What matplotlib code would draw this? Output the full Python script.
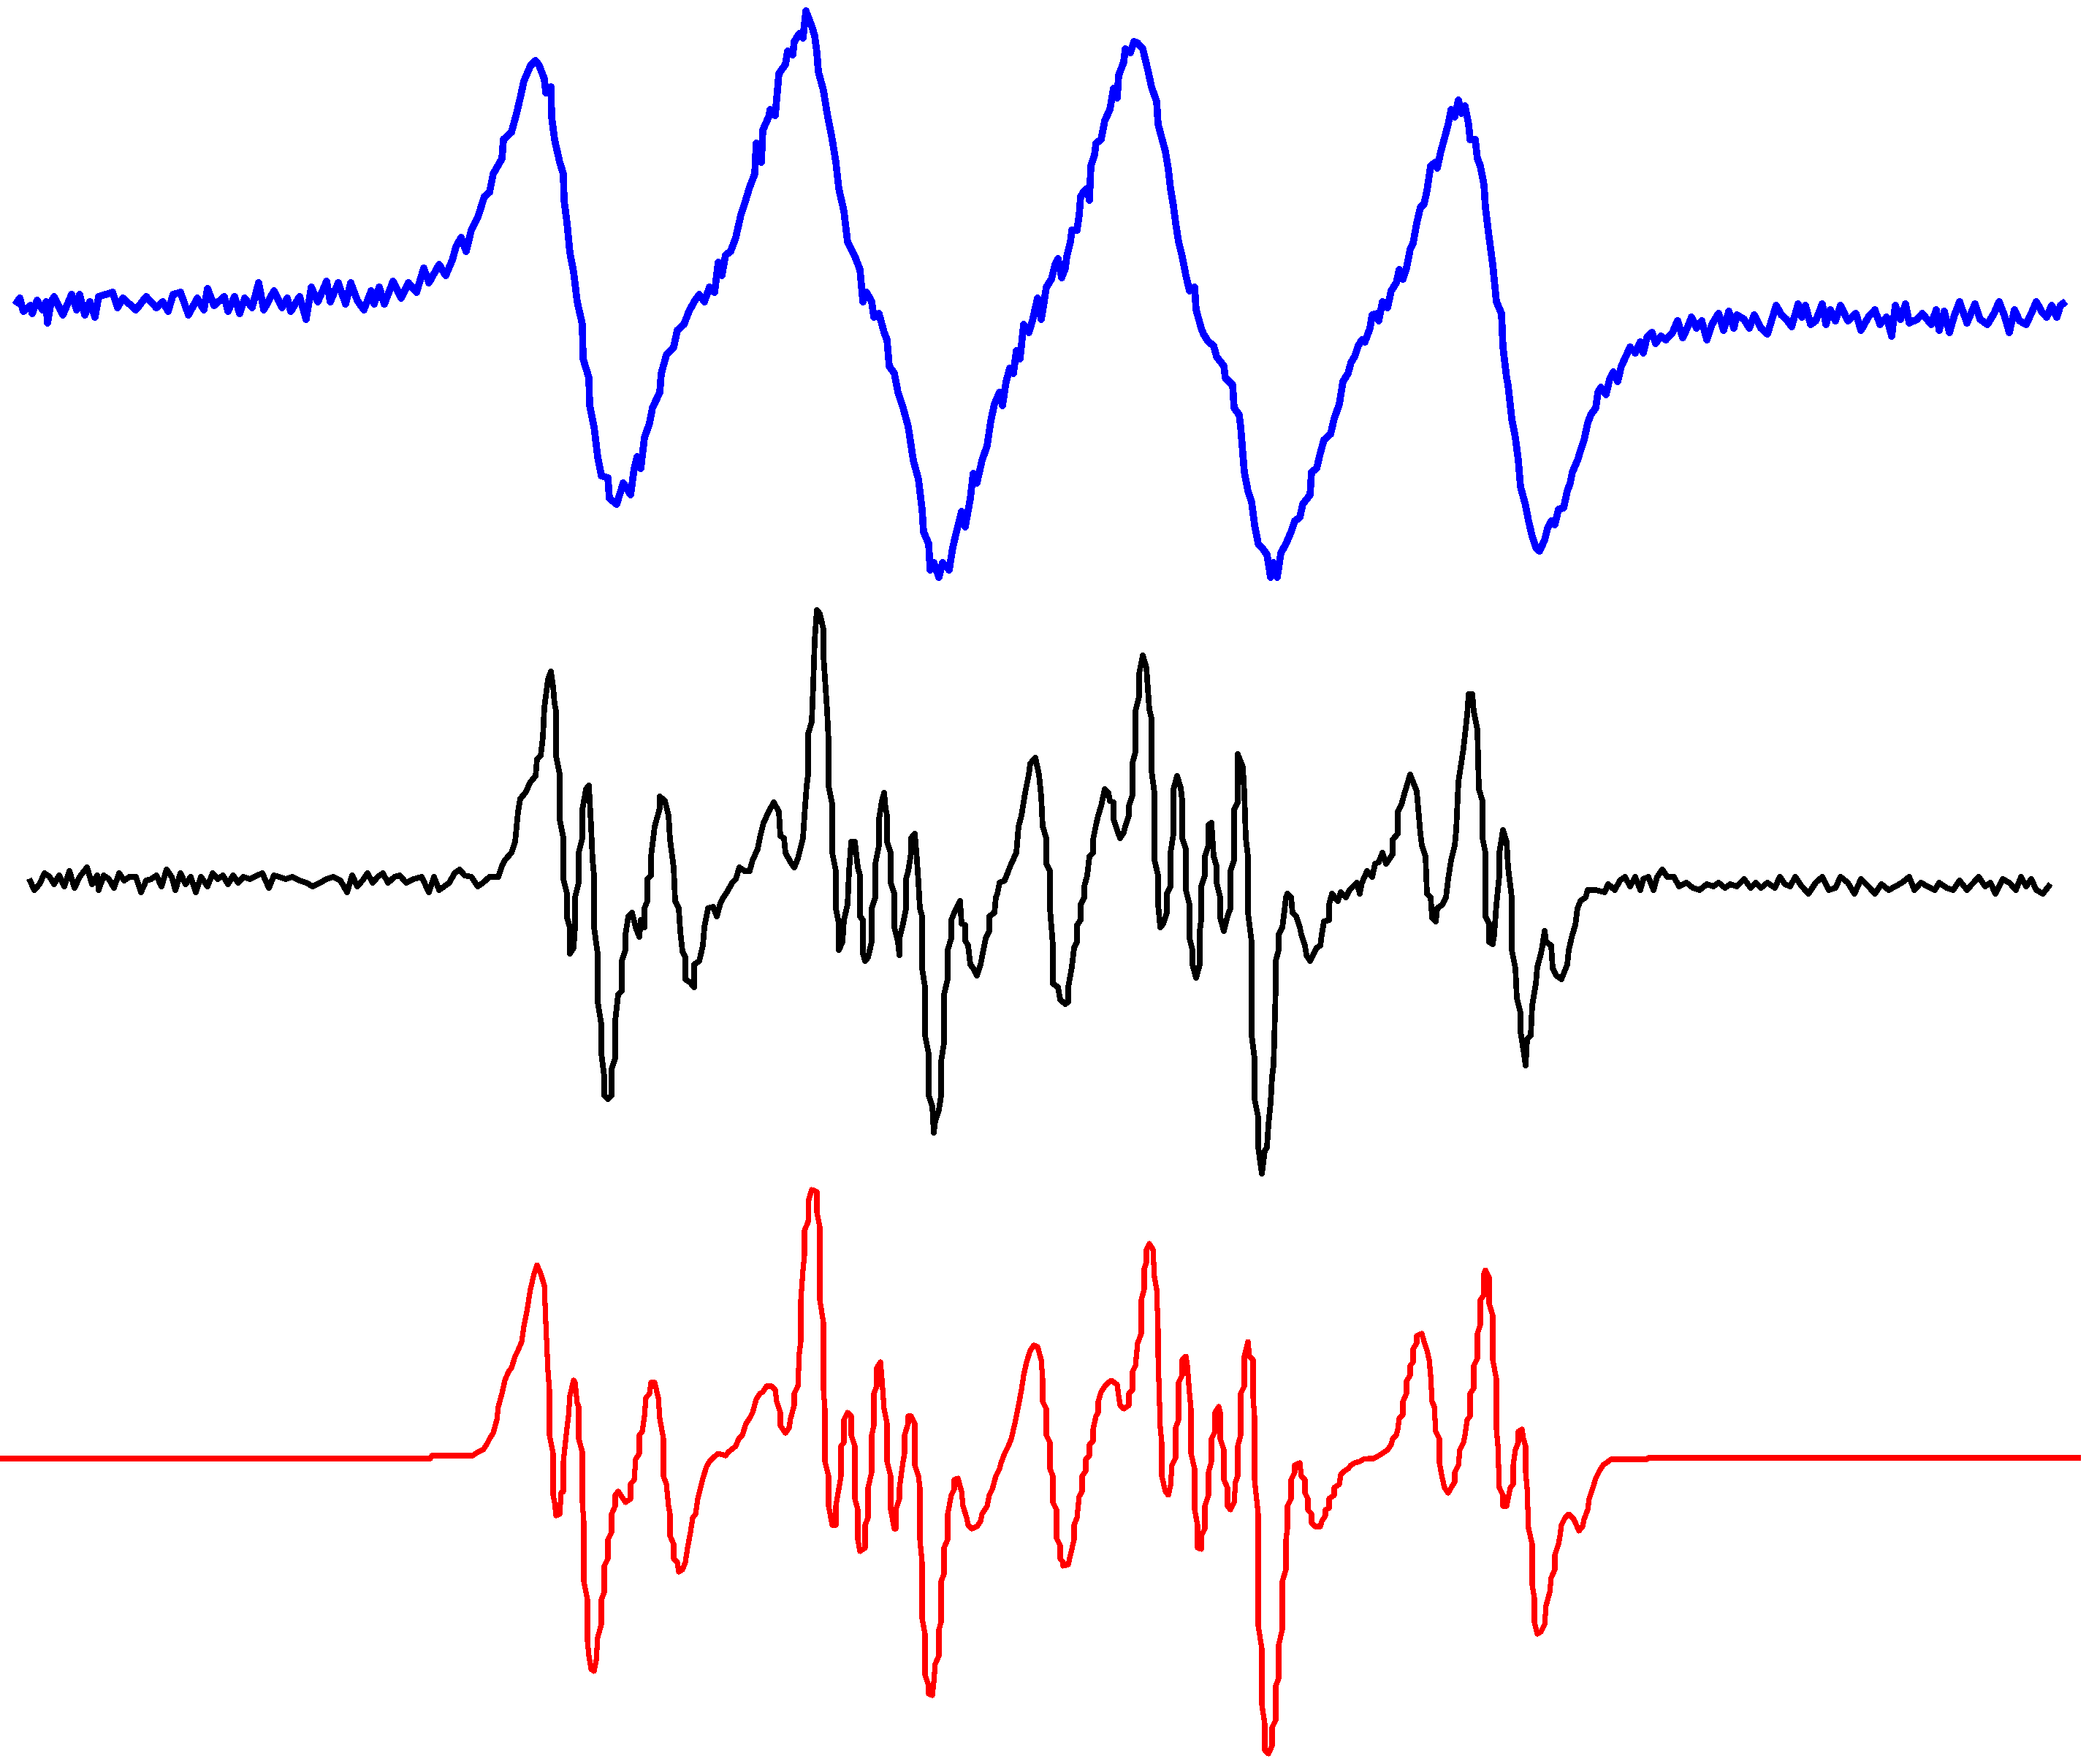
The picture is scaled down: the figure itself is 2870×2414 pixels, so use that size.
import matplotlib
matplotlib.use("Agg")
import matplotlib.pyplot as plt

# -----------------------------
# Readings (field position, signal row) taken off the stacked spectra
# -----------------------------
blue_points = [
    (21, 417), (27, 408), (32, 426), (42, 418), (44, 429), (51, 411), (58, 424), (63, 413), (65, 442),
    (70, 413), (74, 406), (86, 431), (98, 403), (105, 424), (109, 403), (116, 431), (123, 413), (130, 434),
    (135, 406), (154, 400), (161, 421), (168, 408), (186, 424), (200, 406), (214, 421), (223, 413), (230, 426),
    (237, 403), (247, 400), (258, 431), (270, 408), (279, 424), (284, 395), (293, 418), (307, 406), (312, 426),
    (321, 406), (328, 429), (335, 408), (345, 421), (354, 387), (361, 424), (375, 398), (386, 421), (393, 408),
    (398, 426), (410, 406), (419, 437), (426, 393), (435, 413), (447, 385), (452, 413), (463, 387), (473, 416),
    (480, 387), (489, 411), (498, 424), (508, 398), (512, 416), (519, 393), (526, 416), (538, 385), (549, 408),
    (559, 387), (570, 400), (580, 367), (587, 387), (601, 362), (610, 377), (619, 356), (624, 338), (631, 325),
    (638, 344), (645, 315), (654, 297), (663, 269), (670, 263), (675, 238), (687, 217), (689, 191),
    (700, 181), (707, 155), (712, 134), (717, 111), (726, 90), (733, 83), (738, 90), (745, 108), (747, 127),
    (754, 119), (755, 160), (759, 191), (766, 222), (771, 238), (772, 274), (776, 305), (780, 346), (785, 372),
    (790, 413), (797, 444), (798, 491), (806, 517), (807, 555), (813, 584), (818, 625), (823, 651), (832, 654),
    (834, 682), (844, 690), (853, 661), (863, 677), (868, 641), (872, 625), (877, 641), (882, 599), (889, 579),
    (893, 558), (903, 537), (905, 511), (912, 486), (922, 475), (927, 452), (936, 444), (943, 426), (950, 413),
    (957, 403), (964, 413), (971, 393), (978, 400), (983, 359), (988, 377), (993, 349), (1000, 344), (1007, 325),
    (1014, 294), (1019, 279), (1026, 256), (1033, 238), (1035, 196), (1042, 222), (1044, 178), (1052, 160),
    (1054, 150), (1061, 158), (1066, 101), (1075, 88), (1078, 70), (1085, 75), (1087, 57), (1094, 46), (1099, 52),
    (1103, 15), (1111, 36), (1115, 49), (1118, 72), (1120, 98), (1127, 124), (1132, 155), (1139, 191), (1144, 222),
    (1148, 258), (1155, 289), (1160, 331), (1170, 351), (1177, 369), (1181, 413), (1186, 400), (1193, 413),
    (1196, 434), (1203, 429), (1210, 455), (1214, 465), (1217, 501), (1224, 511), (1229, 537), (1236, 558),
    (1243, 584), (1250, 630), (1257, 656), (1262, 697), (1264, 728), (1271, 744), (1273, 780), (1278, 770),
    (1285, 790), (1290, 770), (1299, 780), (1304, 749), (1309, 728), (1316, 700), (1321, 721), (1328, 682),
    (1332, 648), (1337, 661), (1344, 630), (1351, 610), (1356, 576), (1361, 553), (1368, 537), (1372, 555),
    (1377, 522), (1382, 504), (1387, 511), (1391, 480), (1396, 491), (1401, 444), (1408, 455), (1413, 439),
    (1420, 408), (1425, 437), (1429, 413), (1432, 393), (1439, 382), (1444, 362), (1448, 354), (1453, 380),
    (1458, 367), (1460, 351), (1465, 331), (1467, 315), (1474, 315), (1477, 294), (1479, 269), (1484, 261),
    (1488, 258), (1491, 274), (1493, 227), (1498, 212), (1500, 196), (1507, 191), (1512, 165), (1519, 150),
    (1524, 121), (1529, 134), (1531, 103), (1538, 85), (1540, 67), (1547, 72), (1552, 57), (1557, 59), (1564, 67),
    (1571, 96), (1576, 119), (1583, 139), (1585, 170), (1590, 189), (1595, 207), (1599, 232), (1602, 258),
    (1606, 282), (1609, 305), (1613, 331), (1618, 351), (1623, 377), (1628, 398), (1635, 393), (1637, 424),
    (1644, 449), (1647, 457), (1654, 468), (1661, 473), (1665, 488), (1675, 501), (1677, 517), (1687, 527),
    (1689, 558), (1696, 568), (1698, 584), (1703, 646), (1708, 672), (1713, 687), (1717, 718), (1722, 744),
    (1729, 752), (1734, 759), (1739, 790), (1743, 770), (1748, 790), (1753, 757), (1760, 744), (1767, 728),
    (1772, 713), (1779, 708), (1783, 690), (1793, 677), (1795, 646), (1802, 641), (1807, 620), (1812, 602),
    (1821, 594), (1826, 573), (1833, 553), (1838, 522), (1845, 511), (1849, 496), (1854, 488), (1859, 473),
    (1864, 465), (1868, 468), (1875, 449), (1878, 431), (1885, 429), (1887, 439), (1892, 413), (1899, 421),
    (1904, 398), (1911, 387), (1915, 369), (1920, 382), (1925, 367), (1930, 341), (1934, 333), (1939, 305),
    (1944, 284), (1949, 279), (1953, 261), (1958, 227), (1965, 222), (1967, 230), (1972, 207), (1977, 189),
    (1982, 170), (1986, 150), (1991, 160), (1996, 137), (2000, 155), (2005, 145), (2010, 170), (2012, 191),
    (2019, 191), (2022, 217), (2026, 227), (2031, 253), (2033, 284), (2038, 325), (2043, 362), (2048, 413),
    (2055, 429), (2057, 475), (2062, 517), (2064, 527), (2069, 573), (2074, 599), (2078, 630), (2081, 666),
    (2088, 692), (2092, 713), (2097, 734), (2102, 749), (2107, 754), (2114, 739), (2118, 723), (2123, 713),
    (2128, 718), (2133, 697),
    (2140, 695), (2145, 672), (2149, 661), (2152, 646), (2159, 630), (2163, 617), (2168, 602), (2173, 579),
    (2177, 568), (2184, 558), (2187, 537), (2191, 530), (2198, 540), (2203, 519), (2208, 509), (2214, 522),
    (2219, 501), (2226, 486), (2231, 475), (2238, 483), (2245, 468), (2249, 483), (2254, 462), (2261, 455),
    (2266, 470), (2273, 460), (2280, 465), (2289, 455), (2296, 439), (2303, 462), (2310, 447), (2315, 434),
    (2322, 449), (2329, 439), (2336, 465), (2343, 444), (2352, 429), (2359, 452), (2366, 426), (2373, 449),
    (2377, 431), (2387, 437), (2394, 449), (2401, 431), (2410, 449), (2419, 457), (2426, 434), (2431, 418),
    (2438, 431), (2445, 437), (2452, 447), (2461, 416), (2466, 434), (2471, 418), (2478, 444), (2485, 439),
    (2494, 416), (2499, 444), (2505, 424), (2512, 439), (2519, 418), (2529, 439), (2540, 429), (2547, 452),
    (2557, 434), (2566, 424), (2573, 444), (2582, 434), (2589, 460), (2594, 418), (2601, 437), (2608, 416),
    (2613, 442), (2624, 437), (2631, 429), (2643, 444), (2650, 424), (2654, 452), (2661, 426), (2668, 455),
    (2675, 431), (2682, 413), (2692, 442), (2703, 416), (2710, 437), (2720, 444), (2729, 429), (2736, 413),
    (2743, 431), (2750, 455), (2757, 424), (2764, 439), (2773, 444), (2780, 429), (2787, 413), (2794, 426),
    (2801, 434), (2808, 418), (2815, 434), (2820, 418), (2827, 413),
]

black_points = [
    (40, 1203), (47, 1218), (54, 1210), (61, 1195), (68, 1200), (74, 1210), (81, 1198), (88, 1213), (95, 1192),
    (102, 1215), (109, 1200), (119, 1187), (126, 1210), (133, 1198), (135, 1218), (142, 1198), (149, 1203),
    (156, 1215), (163, 1195), (170, 1205), (177, 1200), (186, 1200), (193, 1221), (200, 1205), (207, 1203),
    (214, 1198), (221, 1213), (228, 1190), (235, 1200), (240, 1218), (247, 1195), (254, 1210), (261, 1200),
    (268, 1221), (275, 1200), (284, 1213), (291, 1195), (298, 1203), (305, 1198), (312, 1210), (319, 1198),
    (326, 1208), (333, 1200), (342, 1203), (352, 1198), (359, 1195), (368, 1215), (375, 1198), (382, 1200),
    (391, 1203), (400, 1200), (410, 1205), (419, 1208), (428, 1213), (438, 1208), (447, 1203), (456, 1200),
    (466, 1205), (475, 1221), (482, 1198), (489, 1213), (496, 1205), (503, 1195), (510, 1208), (517, 1200),
    (524, 1195), (531, 1208), (540, 1200), (547, 1198), (556, 1208), (566, 1203), (577, 1200), (587, 1221),
    (594, 1200), (601, 1218), (608, 1213), (615, 1208), (622, 1195), (629, 1190), (636, 1198), (645, 1200),
    (654, 1213), (661, 1208), (670, 1200), (682, 1200), (687, 1185), (691, 1177),
    (700, 1167), (705, 1152), (707, 1131), (709, 1111), (712, 1093), (719, 1085), (726, 1070), (733, 1062),
    (735, 1039), (740, 1034), (743, 1009), (745, 968), (747, 953), (750, 930), (754, 919), (757, 940), (759, 963),
    (761, 973), (761, 1034), (766, 1060), (766, 1121), (771, 1147), (771, 1203), (776, 1223), (776, 1256),
    (780, 1269), (780, 1305), (785, 1297), (787, 1269), (787, 1228), (792, 1208), (792, 1167), (797, 1147),
    (797, 1108), (802, 1080), (806, 1075), (809, 1131), (811, 1177), (813, 1198), (813, 1269), (818, 1305),
    (818, 1371), (823, 1402), (823, 1442), (827, 1473), (827, 1499), (832, 1504), (837, 1499), (837, 1463),
    (842, 1448), (842, 1397), (846, 1361), (851, 1356), (851, 1315), (856, 1300), (856, 1279), (860, 1254),
    (865, 1249), (870, 1269), (875, 1282), (877, 1259), (882, 1269), (882, 1243), (886, 1233), (886, 1203),
    (891, 1198), (891, 1172), (896, 1131), (903, 1106), (903, 1090), (910, 1096), (915, 1116), (917, 1149),
    (922, 1187), (924, 1233), (929, 1243), (931, 1274), (934, 1302), (938, 1310), (938, 1340), (945, 1345),
    (950, 1351), (950, 1320), (957, 1315), (962, 1294), (964, 1269), (969, 1243), (976, 1241), (981, 1254),
    (986, 1236), (990, 1228), (995, 1221), (1002, 1208), (1007, 1203), (1012, 1187), (1019, 1192), (1026, 1192),
    (1030, 1177), (1037, 1162), (1040, 1146), (1045, 1126), (1052, 1111), (1059, 1098), (1066, 1111),
    (1068, 1144), (1073, 1147), (1075, 1167), (1082, 1180), (1087, 1187), (1092, 1175), (1099, 1147),
    (1101, 1116), (1104, 1075), (1106, 1060), (1106, 1004), (1111, 988), (1113, 937), (1115, 876), (1118, 835),
    (1122, 840), (1127, 861), (1127, 897), (1132, 973), (1134, 1014), (1134, 1075), (1139, 1101), (1139, 1167),
    (1144, 1192), (1144, 1243), (1148, 1264), (1148, 1300), (1153, 1289), (1155, 1259), (1160, 1238),
    (1162, 1192), (1165, 1152), (1170, 1152), (1174, 1187), (1177, 1198), (1177, 1254), (1181, 1259),
    (1181, 1305), (1184, 1315), (1188, 1310), (1193, 1289), (1193, 1243), (1198, 1228), (1198, 1182),
    (1203, 1157), (1203, 1121), (1207, 1096), (1210, 1085), (1212, 1106), (1214, 1116), (1214, 1152),
    (1219, 1167), (1219, 1208), (1224, 1223), (1224, 1269), (1229, 1289), (1231, 1307), (1231, 1284),
    (1236, 1264), (1240, 1243), (1240, 1203), (1243, 1192), (1247, 1167), (1247, 1147), (1252, 1141),
    (1255, 1177), (1257, 1208), (1259, 1243), (1262, 1254), (1262, 1325), (1266, 1351), (1266, 1417),
    (1271, 1442), (1271, 1499), (1276, 1514), (1278, 1550), (1280, 1534), (1285, 1519), (1288, 1499),
    (1288, 1453), (1292, 1427), (1292, 1361), (1297, 1340), (1297, 1300), (1302, 1284), (1302, 1259),
    (1306, 1249), (1309, 1243), (1314, 1233), (1316, 1264), (1321, 1266), (1321, 1287), (1325, 1294),
    (1328, 1320), (1332, 1325), (1337, 1335), (1342, 1320), (1344, 1310), (1349, 1284), (1354, 1274),
    (1354, 1254), (1361, 1249), (1363, 1228), (1365, 1223), (1368, 1208), (1375, 1205), (1380, 1192),
    (1384, 1182), (1391, 1167), (1394, 1131), (1398, 1116), (1403, 1085), (1408, 1060), (1410, 1045),
    (1417, 1037),
    (1422, 1060), (1425, 1090), (1427, 1131), (1432, 1147), (1432, 1182), (1437, 1192), (1437, 1243),
    (1441, 1294), (1441, 1346), (1448, 1351), (1451, 1368), (1458, 1374), (1462, 1371), (1462, 1351),
    (1467, 1323), (1470, 1297), (1474, 1289), (1474, 1266), (1479, 1259), (1479, 1238), (1484, 1228),
    (1484, 1213), (1488, 1198), (1491, 1172), (1496, 1167), (1496, 1149), (1500, 1129), (1503, 1116),
    (1507, 1103), (1512, 1080), (1517, 1085), (1519, 1096), (1524, 1098), (1524, 1121), (1529, 1136),
    (1533, 1147), (1538, 1139), (1540, 1131), (1545, 1116), (1545, 1103), (1550, 1088), (1550, 1044),
    (1554, 1029), (1554, 973), (1559, 953), (1559, 922), (1564, 897), (1569, 914), (1573, 971), (1576, 983),
    (1576, 1055), (1580, 1085), (1580, 1177), (1585, 1198), (1585, 1238), (1588, 1269), (1592, 1264),
    (1597, 1249), (1597, 1223), (1602, 1213), (1602, 1167), (1606, 1141), (1606, 1080), (1611, 1062),
    (1616, 1078), (1618, 1096), (1618, 1147), (1623, 1162), (1623, 1218), (1628, 1238), (1628, 1284),
    (1632, 1300), (1632, 1320), (1637, 1338), (1642, 1320), (1642, 1274), (1644, 1259), (1644, 1213),
    (1649, 1198), (1649, 1172), (1654, 1157), (1654, 1129), (1658, 1126), (1661, 1172), (1665, 1185),
    (1665, 1208), (1670, 1228), (1670, 1256), (1675, 1274), (1680, 1254), (1684, 1243), (1684, 1192),
    (1689, 1177), (1689, 1108), (1694, 1098), (1694, 1032), (1701, 1050), (1703, 1085), (1705, 1147),
    (1708, 1172), (1708, 1249), (1713, 1289), (1713, 1417), (1717, 1448), (1717, 1504), (1722, 1529),
    (1722, 1570), (1727, 1606), (1731, 1575), (1734, 1570), (1736, 1539), (1739, 1509), (1741, 1473),
    (1743, 1458), (1746, 1351), (1746, 1315), (1750, 1300), (1750, 1279), (1755, 1269), (1757, 1254),
    (1760, 1228), (1762, 1223), (1767, 1228), (1769, 1249), (1774, 1254), (1779, 1269), (1781, 1279),
    (1786, 1294), (1788, 1307), (1793, 1315), (1798, 1305), (1802, 1297), (1807, 1294), (1809, 1279),
    (1812, 1261), (1819, 1259), (1819, 1238), (1823, 1223), (1831, 1233), (1835, 1221), (1842, 1228),
    (1847, 1218), (1852, 1213), (1857, 1208), (1861, 1223), (1864, 1208), (1871, 1192), (1878, 1200),
    (1882, 1182), (1887, 1180), (1892, 1167), (1897, 1182), (1906, 1169), (1906, 1149), (1913, 1141),
    (1913, 1111), (1918, 1101), (1923, 1083), (1927, 1070), (1930, 1060), (1934, 1070), (1939, 1083),
    (1941, 1106), (1944, 1141), (1946, 1157), (1951, 1172), (1953, 1223), (1958, 1228), (1960, 1256),
    (1965, 1261), (1967, 1243), (1974, 1238), (1979, 1228), (1982, 1203), (1986, 1177), (1991, 1157),
    (1993, 1136), (1996, 1070), (2000, 1044), (2003, 1024), (2008, 978), (2010, 950), (2015, 950), (2017, 973),
    (2022, 999), (2024, 1080), (2029, 1096), (2029, 1147), (2033, 1167), (2033, 1254), (2038, 1264),
    (2038, 1289), (2043, 1292), (2045, 1279), (2048, 1238), (2052, 1198), (2052, 1167), (2057, 1136),
    (2062, 1152), (2064, 1187), (2069, 1228), (2069, 1300), (2074, 1325), (2076, 1366), (2081, 1386),
    (2081, 1412), (2085, 1437), (2088, 1458), (2090, 1422), (2095, 1417), (2097, 1376), (2102, 1346),
    (2104, 1323), (2109, 1305), (2111, 1294), (2114, 1274), (2116, 1289), (2123, 1294), (2125, 1325),
    (2130, 1335), (2137, 1340),
    (2145, 1320), (2147, 1300), (2152, 1279), (2156, 1266), (2159, 1243), (2163, 1233), (2170, 1228),
    (2173, 1218), (2184, 1218), (2196, 1221), (2201, 1210), (2210, 1218), (2217, 1205), (2224, 1200),
    (2231, 1213), (2238, 1200), (2245, 1218), (2249, 1203), (2256, 1200), (2263, 1218), (2268, 1200),
    (2275, 1190), (2282, 1200), (2291, 1200), (2298, 1213), (2308, 1208), (2317, 1215), (2326, 1218),
    (2336, 1210), (2345, 1213), (2352, 1208), (2361, 1215), (2368, 1210), (2377, 1213), (2387, 1203),
    (2396, 1215), (2403, 1208), (2410, 1215), (2419, 1208), (2429, 1215), (2436, 1200), (2443, 1210),
    (2450, 1213), (2457, 1200), (2466, 1213), (2475, 1223), (2485, 1208), (2494, 1200), (2503, 1218),
    (2512, 1215), (2519, 1200), (2529, 1208), (2538, 1223), (2547, 1203), (2557, 1213), (2566, 1223),
    (2575, 1210), (2585, 1218), (2594, 1213), (2603, 1208), (2613, 1200), (2620, 1218), (2629, 1208),
    (2638, 1213), (2648, 1218), (2654, 1208), (2664, 1215), (2673, 1218), (2682, 1205), (2692, 1218),
    (2699, 1210), (2708, 1200), (2717, 1213), (2724, 1208), (2731, 1223), (2741, 1203), (2750, 1208),
    (2759, 1218), (2766, 1200), (2773, 1213), (2780, 1203), (2787, 1218), (2796, 1223), (2806, 1210),
]

red_points = [
    (0, 1996), (589, 1996), (591, 1992), (647, 1992), (654, 1987), (661, 1984), (666, 1977), (670, 1969),
    (675, 1961), (680, 1943), (682, 1925), (687, 1907), (691, 1889), (696, 1877),
    (700, 1872), (705, 1856), (709, 1848), (714, 1836), (717, 1815), (721, 1795), (726, 1764), (731, 1743),
    (735, 1731), (740, 1743), (745, 1759), (747, 1810), (750, 1877), (752, 1902), (752, 1964), (757, 1989),
    (757, 2046), (759, 2056), (761, 2074), (766, 2072), (768, 2043), (771, 2041), (771, 2000), (776, 1954),
    (778, 1938), (780, 1910), (785, 1889), (787, 1892), (790, 1920), (792, 1925), (792, 1969), (797, 1987),
    (797, 2056), (799, 2082), (799, 2164), (804, 2189), (804, 2246), (806, 2266), (809, 2284), (813, 2287),
    (816, 2272), (818, 2241), (823, 2223), (823, 2189), (827, 2179), (827, 2143), (832, 2133), (832, 2107),
    (837, 2097), (837, 2072), (842, 2061), (842, 2046), (846, 2041), (851, 2048), (856, 2056), (863, 2051),
    (863, 2031), (868, 2025), (870, 1997), (875, 1989), (875, 1964), (879, 1959), (882, 1938), (884, 1913),
    (889, 1907), (891, 1892), (896, 1892), (901, 1913), (903, 1941), (908, 1969), (908, 2020), (912, 2031),
    (915, 2061), (917, 2072), (917, 2102), (922, 2113), (922, 2133), (927, 2138), (929, 2151), (934, 2148),
    (938, 2138), (941, 2118), (945, 2097), (948, 2077), (952, 2072), (955, 2051), (960, 2031), (962, 2023),
    (967, 2007), (971, 2000), (976, 1995), (983, 1989), (993, 1992), (997, 1987), (1007, 1979), (1011, 1969),
    (1016, 1964), (1021, 1948), (1026, 1941), (1030, 1933), (1035, 1915), (1040, 1907), (1044, 1905),
    (1049, 1897), (1056, 1897), (1061, 1902), (1063, 1918), (1068, 1933), (1068, 1951), (1075, 1961),
    (1080, 1954), (1082, 1941), (1087, 1923), (1087, 1907), (1092, 1897), (1094, 1851), (1096, 1836),
    (1096, 1779), (1099, 1738), (1101, 1718), (1101, 1684), (1106, 1672), (1107, 1641), (1111, 1628),
    (1118, 1631), (1118, 1659), (1122, 1679), (1122, 1779), (1127, 1810), (1127, 1902), (1129, 1928),
    (1129, 2000), (1134, 2020), (1134, 2061), (1139, 2087), (1144, 2087), (1144, 2061), (1151, 2020),
    (1151, 1979), (1155, 1974), (1155, 1943), (1160, 1933), (1165, 1938), (1165, 1964), (1170, 1979),
    (1170, 2051), (1174, 2066), (1174, 2107), (1177, 2123), (1184, 2118), (1184, 2087), (1188, 2077),
    (1188, 2036), (1193, 2015), (1193, 1964), (1196, 1951), (1196, 1907), (1200, 1897), (1200, 1872),
    (1205, 1864), (1207, 1887), (1210, 1928), (1214, 1948), (1214, 2000), (1219, 2020), (1219, 2066),
    (1224, 2092), (1226, 2092), (1226, 2066), (1231, 2051), (1231, 2036), (1236, 2000), (1238, 1989),
    (1238, 1964), (1243, 1948), (1243, 1938), (1247, 1938), (1252, 1948), (1252, 2005), (1257, 2020),
    (1259, 2036), (1259, 2107), (1262, 2138), (1262, 2215), (1266, 2236), (1266, 2292), (1271, 2307),
    (1271, 2318), (1276, 2320), (1278, 2302), (1280, 2277), (1285, 2266), (1285, 2230), (1288, 2220),
    (1288, 2164), (1292, 2154), (1292, 2118), (1297, 2107), (1297, 2072), (1302, 2046), (1306, 2038),
    (1306, 2025), (1311, 2023), (1316, 2041), (1318, 2061), (1323, 2077), (1325, 2087), (1330, 2092),
    (1337, 2089), (1342, 2082), (1344, 2072), (1351, 2061), (1354, 2046), (1358, 2038), (1363, 2020),
    (1368, 2010), (1370, 2002), (1375, 1989), (1380, 1979), (1384, 1969), (1389, 1948), (1394, 1923),
    (1398, 1902), (1401, 1882), (1405, 1864), (1410, 1848), (1415, 1841),
    (1420, 1843), (1425, 1861), (1427, 1887), (1427, 1918), (1432, 1928), (1432, 1964), (1437, 1974),
    (1437, 2010), (1441, 2020), (1441, 2056), (1446, 2066), (1446, 2105), (1451, 2115), (1451, 2133),
    (1455, 2138), (1455, 2143), (1462, 2141), (1465, 2128), (1470, 2107), (1470, 2087), (1474, 2077),
    (1477, 2048), (1481, 2041), (1481, 2020), (1486, 2013), (1486, 1997), (1491, 1992), (1491, 1977),
    (1496, 1972), (1496, 1956), (1500, 1938), (1503, 1933), (1503, 1918), (1507, 1905), (1512, 1897),
    (1517, 1892), (1521, 1889), (1529, 1895), (1531, 1910), (1533, 1923), (1538, 1928), (1545, 1923),
    (1545, 1907), (1550, 1902), (1550, 1877), (1554, 1869), (1557, 1838), (1562, 1825), (1562, 1779),
    (1566, 1764), (1566, 1736), (1569, 1728), (1569, 1710), (1573, 1702), (1578, 1710), (1580, 1748),
    (1583, 1764), (1585, 1820), (1585, 1856), (1588, 1954), (1590, 1974), (1590, 2020), (1595, 2041),
    (1599, 2046), (1602, 2033), (1604, 2005), (1609, 1995), (1609, 1954), (1613, 1943), (1613, 1892),
    (1618, 1882), (1618, 1861), (1623, 1856), (1625, 1869), (1628, 1907), (1630, 1928), (1630, 1989),
    (1635, 2010), (1635, 2066), (1639, 2087), (1639, 2118), (1644, 2120), (1644, 2102), (1649, 2092),
    (1649, 2061), (1654, 2046), (1654, 2015), (1658, 2000), (1658, 1969), (1663, 1959), (1663, 1933),
    (1668, 1925), (1670, 1933), (1670, 1969), (1675, 1984), (1675, 2025), (1680, 2036), (1680, 2061),
    (1684, 2066), (1689, 2056), (1691, 2028), (1694, 2020), (1694, 1979), (1698, 1964), (1698, 1907),
    (1703, 1897), (1703, 1856), (1708, 1836), (1710, 1856), (1715, 1861), (1715, 1913), (1717, 1938),
    (1717, 2025), (1722, 2072), (1722, 2225), (1727, 2256), (1727, 2333), (1731, 2359), (1731, 2395),
    (1736, 2400), (1741, 2389), (1741, 2364), (1746, 2354), (1746, 2307), (1750, 2297), (1750, 2251),
    (1755, 2230), (1755, 2164), (1760, 2148), (1760, 2107), (1762, 2092), (1762, 2061), (1767, 2051),
    (1767, 2025), (1772, 2015), (1772, 2005), (1779, 2002), (1781, 2020), (1786, 2025), (1786, 2043),
    (1790, 2051), (1790, 2066), (1795, 2072), (1795, 2084), (1800, 2089), (1807, 2089), (1809, 2082),
    (1814, 2074), (1814, 2066), (1819, 2064), (1819, 2051), (1826, 2046), (1826, 2036), (1833, 2031),
    (1835, 2018), (1840, 2013), (1845, 2010), (1849, 2005), (1854, 2002), (1861, 2000), (1866, 1997),
    (1873, 1996), (1880, 1996), (1887, 1992), (1892, 1989), (1899, 1984), (1904, 1977), (1906, 1969),
    (1911, 1964), (1913, 1956), (1915, 1941), (1920, 1936), (1920, 1918), (1925, 1907), (1925, 1890),
    (1930, 1882), (1930, 1869), (1934, 1864), (1934, 1846), (1939, 1838), (1939, 1828), (1946, 1825),
    (1949, 1836), (1953, 1848), (1956, 1861), (1958, 1882), (1960, 1918), (1963, 1925), (1965, 1959),
    (1970, 1969), (1970, 2002), (1974, 2023), (1977, 2036), (1982, 2043), (1986, 2036), (1991, 2028),
    (1991, 2015), (1996, 2005), (1998, 1984), (2003, 1974), (2005, 1964), (2008, 1943), (2012, 1938),
    (2012, 1907), (2017, 1900), (2017, 1869), (2022, 1859), (2022, 1825), (2026, 1813), (2026, 1779),
    (2031, 1772), (2031, 1743), (2033, 1738), (2038, 1748), (2038, 1784), (2043, 1800), (2043, 1861),
    (2048, 1887), (2048, 1956), (2050, 1977), (2052, 2036), (2057, 2046), (2057, 2061), (2062, 2061),
    (2064, 2051), (2067, 2036), (2071, 2031), (2071, 2005), (2074, 1984), (2078, 1974), (2078, 1959),
    (2083, 1956), (2085, 1969), (2088, 1979), (2088, 2015), (2090, 2036), (2092, 2092), (2097, 2113),
    (2097, 2169), (2100, 2187), (2100, 2220), (2104, 2236), (2109, 2233), (2114, 2223), (2116, 2197),
    (2121, 2179), (2123, 2159), (2128, 2148), (2128, 2128), (2133, 2113), (2135, 2102), (2137, 2087),
    (2142, 2077), (2147, 2072), (2154, 2079),
    (2161, 2095), (2166, 2089), (2168, 2079), (2173, 2066), (2175, 2051), (2180, 2036), (2184, 2023),
    (2189, 2013), (2194, 2005), (2201, 2000), (2205, 1997), (2254, 1997), (2256, 1995), (2848, 1995),
]

# -----------------------------
# Plot
# -----------------------------
fig = plt.figure(figsize=(28.7, 24.14), dpi=100)
ax = fig.add_axes([0, 0, 1, 1])

for pts, color, lw in [(blue_points, "#0000ff", 6.2),
                       (black_points, "#000000", 4.8),
                       (red_points, "#ff0000", 4.4)]:
    x, y = zip(*pts)
    ax.plot(x, y, color=color, linewidth=lw, antialiased=False,
            solid_joinstyle="round", solid_capstyle="butt")

ax.set_xlim(0, 2870)
ax.set_ylim(2414, 0)
ax.axis("off")

fig.savefig("out.png", dpi=100, facecolor="white")
